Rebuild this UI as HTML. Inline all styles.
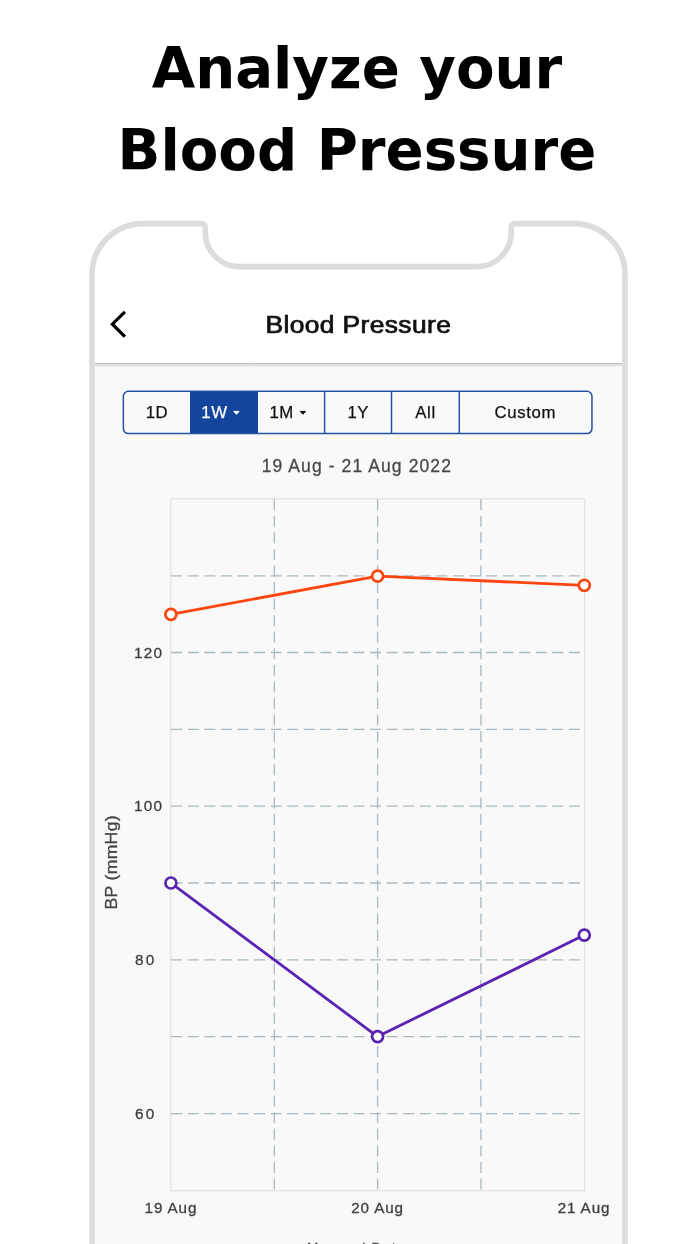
<!DOCTYPE html>
<html>
<head>
<meta charset="utf-8">
<style>
html,body{margin:0;padding:0;background:#fff;}
body{width:700px;height:1244px;position:relative;overflow:hidden;}
.title{will-change:transform;position:absolute;left:0;width:714px;text-align:center;font-family:"DejaVu Sans",sans-serif;font-weight:bold;font-size:56.2px;color:#000;white-space:nowrap;line-height:1;}
svg{position:absolute;left:0;top:0;will-change:transform;}
svg text{font-family:"Liberation Sans",Arial,sans-serif;}
.g{stroke:#a9b9c2;stroke-width:1.3;stroke-dasharray:11 5.57;fill:none;}
.seg{font-size:16.8px;fill:#111;stroke:#111;stroke-width:0.25px;text-anchor:middle;letter-spacing:0.6px;}
.yl{font-size:15.3px;fill:#3e3e3e;stroke:#3e3e3e;stroke-width:0.3px;text-anchor:start;letter-spacing:1.3px;}
.xl{font-size:15.2px;fill:#3e3e3e;stroke:#3e3e3e;stroke-width:0.3px;text-anchor:middle;letter-spacing:0.9px;}
</style>
</head>
<body>
<div class="title" style="top:41px;">Analyze your</div>
<div class="title" style="top:122.5px;">Blood Pressure</div>

<svg width="700" height="1244" viewBox="0 0 700 1244">
  <defs><linearGradient id="sh" x1="0" y1="0" x2="0" y2="1"><stop offset="0" stop-color="#dedede"/><stop offset="1" stop-color="#f9f9f9"/></linearGradient></defs>
  <!-- content gray background inside phone -->
  <rect x="95" y="363" width="527.5" height="900" fill="#f9f9f9"/>
  <!-- header separator -->
  <rect x="95" y="363" width="527.5" height="1.6" fill="#c2c2c2"/>
  <rect x="95" y="364.6" width="527.5" height="3" fill="url(#sh)"/>
  <!-- phone frame -->
  <path d="M92 1300 L92 274.6 A51 51 0 0 1 143 223.6 L201.3 223.6 A4 4 0 0 1 205.3 227.6 L205.3 232.6 A34 34 0 0 0 239.3 266.6 L477.2 266.6 A34 34 0 0 0 511.2 232.6 L511.2 227.6 A4 4 0 0 1 515.2 223.6 L574 223.6 A51 51 0 0 1 625 274.6 L625 1300"
        fill="none" stroke="#dcdcdc" stroke-width="5.6"/>

  <!-- header -->
  <path d="M124.9 311.8 L112.4 324.2 L124.9 336.6" fill="none" stroke="#000" stroke-width="3.2"/>
  <text transform="translate(358.3 333.3) scale(1.1 1)" x="0" y="0" text-anchor="middle" style="font-size:24px;letter-spacing:0.35px;fill:#111;stroke:#111;stroke-width:0.75px;">Blood Pressure</text>

  <!-- segmented control -->
  <rect x="190" y="391.2" width="68" height="42.4" fill="#13459c"/>
  <rect x="123.35" y="391.2" width="468.6" height="42.4" rx="5" ry="5" fill="none" stroke="#2650a6" stroke-width="1.5"/>
  <line x1="324.6" y1="391.2" x2="324.6" y2="433.6" stroke="#2650a6" stroke-width="1.5"/>
  <line x1="391.5" y1="391.2" x2="391.5" y2="433.6" stroke="#2650a6" stroke-width="1.5"/>
  <line x1="459.3" y1="391.2" x2="459.3" y2="433.6" stroke="#2650a6" stroke-width="1.5"/>
  <text class="seg" x="157" y="418.1">1D</text>
  <text class="seg" x="214.5" y="418.1" style="fill:#fff;stroke:#fff">1W</text>
  <path d="M233.7 411.4 L239.1 411.4 L236.4 414.3 Z" fill="#fff" stroke="#fff" stroke-width="1" stroke-linejoin="round"/>
  <text class="seg" x="281.7" y="418.1">1M</text>
  <path d="M300.2 411.4 L305.6 411.4 L302.9 414.3 Z" fill="#111" stroke="#111" stroke-width="1" stroke-linejoin="round"/>
  <text class="seg" x="358.3" y="418.1">1Y</text>
  <text class="seg" x="425.5" y="418.1">All</text>
  <text class="seg" x="525.3" y="418.1">Custom</text>

  <!-- date range -->
  <text x="356.8" y="471.7" text-anchor="middle" style="font-size:17.5px;fill:#4a4a4a;stroke:#4a4a4a;stroke-width:0.3px;letter-spacing:1.1px;">19 Aug - 21 Aug 2022</text>

  <!-- plot frame -->
  <rect x="170.7" y="498.8" width="414" height="692" fill="none" stroke="#e2e2e2" stroke-width="1.3"/>
  <!-- grid -->
  <line x1="171.2" y1="1113.6" x2="581.3" y2="1113.6" class="g"/>
  <line x1="171.2" y1="1036.7" x2="581.3" y2="1036.7" class="g"/>
  <line x1="171.2" y1="959.9" x2="581.3" y2="959.9" class="g"/>
  <line x1="171.2" y1="883.0" x2="581.3" y2="883.0" class="g"/>
  <line x1="171.2" y1="806.2" x2="581.3" y2="806.2" class="g"/>
  <line x1="171.2" y1="729.3" x2="581.3" y2="729.3" class="g"/>
  <line x1="171.2" y1="652.5" x2="581.3" y2="652.5" class="g"/>
  <line x1="171.2" y1="575.9" x2="581.3" y2="575.9" class="g"/>
  <line x1="274.3" y1="499.2" x2="274.3" y2="1189.4" class="g"/>
  <line x1="377.6" y1="499.2" x2="377.6" y2="1189.4" class="g"/>
  <line x1="480.9" y1="499.2" x2="480.9" y2="1189.4" class="g"/>

  <!-- y labels -->
  <text class="yl" x="134" y="657.5">120</text>
  <text class="yl" x="134" y="811.2">100</text>
  <text class="yl" x="135" y="964.9" style="letter-spacing:2.2px">80</text>
  <text class="yl" x="135" y="1118.6" style="letter-spacing:2.2px">60</text>
  <text transform="translate(117 862.3) rotate(-90) scale(1.1 1)" text-anchor="middle" style="font-size:16px;fill:#444;stroke:#444;stroke-width:0.3px;letter-spacing:0.3px;">BP (mmHg)</text>

  <!-- x labels -->
  <text class="xl" x="170.9" y="1213.2">19 Aug</text>
  <text class="xl" x="377.6" y="1213.2">20 Aug</text>
  <text class="xl" x="584" y="1213.2">21 Aug</text>
  <text y="1252.3" style="font-size:13.5px;fill:#444;stroke:#444;stroke-width:0.3px;"><tspan x="306.9" style="letter-spacing:-0.25px">Measured</tspan> <tspan x="371.4" style="letter-spacing:1.6px">Date</tspan></text>

  <!-- series -->
  <polyline points="170.9,614.4 377.6,576.1 584.3,585.3" fill="none" stroke="#fd4510" stroke-width="2.8" stroke-linejoin="round"/>
  <polyline points="170.9,883 377.6,1036.6 584.3,935.1" fill="none" stroke="#5a23b2" stroke-width="2.8" stroke-linejoin="round"/>
  <g fill="#fff" stroke-width="2.7">
    <circle cx="170.9" cy="614.4" r="5.5" stroke="#fd4510"/>
    <circle cx="377.6" cy="576.1" r="5.5" stroke="#fd4510"/>
    <circle cx="584.3" cy="585.3" r="5.5" stroke="#fd4510"/>
    <circle cx="170.9" cy="883" r="5.5" stroke="#5a23b2"/>
    <circle cx="377.6" cy="1036.6" r="5.5" stroke="#5a23b2"/>
    <circle cx="584.3" cy="935.1" r="5.5" stroke="#5a23b2"/>
  </g>
</svg>

</body>
</html>
